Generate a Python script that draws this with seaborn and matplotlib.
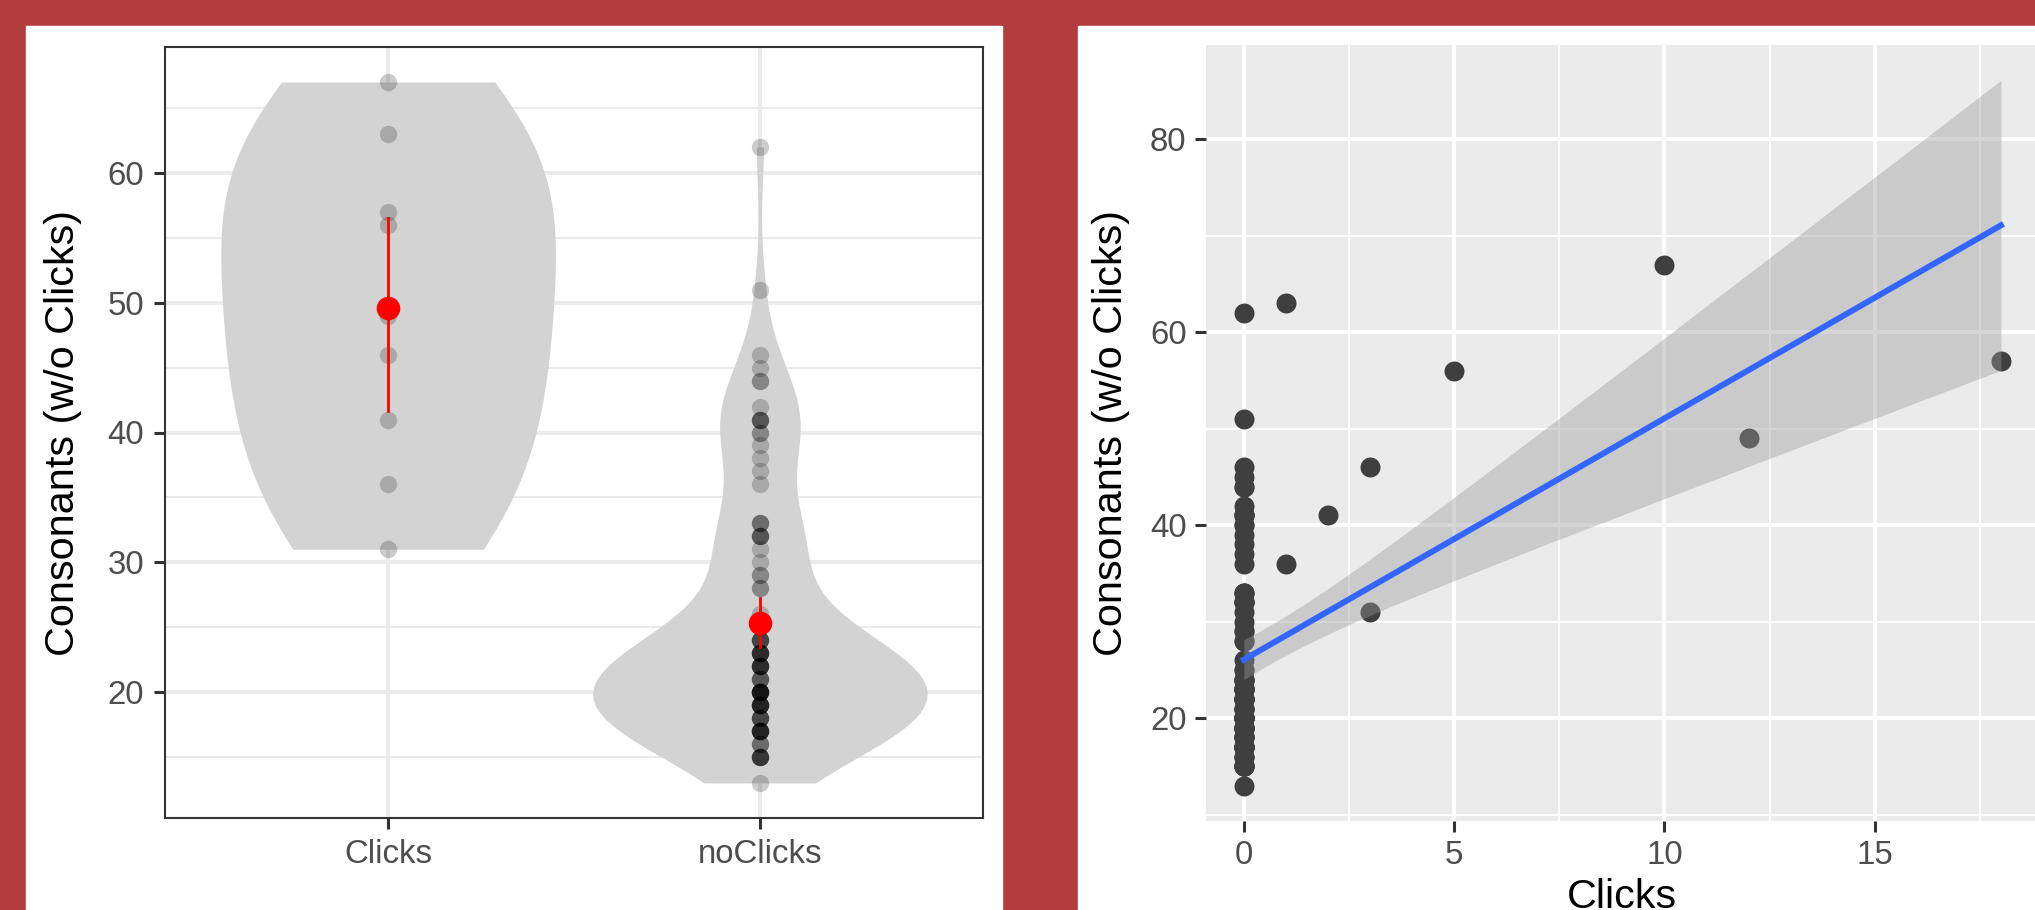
import numpy as np
import pandas as pd
import seaborn as sns
import matplotlib.pyplot as plt

# consonants (w/o clicks) of the speakers that used clicks, and their click counts
clicks_cons = [67, 63, 57, 56, 49, 46, 41, 36, 31]
clicks_count = [10, 1, 18, 5, 12, 3, 2, 1, 3]
# speakers without clicks: consonant values and how many speakers share each value
noclick_vals = [62, 51, 46, 45, 44, 42, 41, 40, 39, 38, 37, 36, 33, 32, 31, 30,
                29, 28, 26, 25, 24, 23, 22, 21, 20, 19, 18, 17, 16, 15, 13]
noclick_reps = [1, 1, 1, 1, 2, 1, 4, 2, 1, 1, 1, 1, 3, 4, 1, 1,
                2, 2, 1, 2, 5, 7, 7, 4, 10, 8, 5, 8, 3, 6, 1]
groups = ['Clicks', 'noClicks']
ylab = 'Consonants (w/o Clicks)'

noclick_cons = np.repeat(noclick_vals, noclick_reps)
df = pd.DataFrame({
    'group': ['Clicks'] * len(clicks_cons) + ['noClicks'] * len(noclick_cons),
    'cons': np.concatenate([clicks_cons, noclick_cons]),
    'clicks': np.concatenate([clicks_count, np.zeros(len(noclick_cons))]),
})

plt.rcParams['font.family'] = ['Liberation Sans', 'DejaVu Sans']
TICK_FS = 23.8
TITLE_FS = 29.8
TXT = '#4D4D4D'


def nrd0(kde):
    # R's default bandwidth rule, as a factor of the sd
    d = kde.dataset[0]
    sd = d.std(ddof=1)
    q75, q25 = np.percentile(d, [75, 25])
    return 0.9 * min(sd, (q75 - q25) / 1.34) * len(d) ** -0.2 / sd


def pad_range(lo, hi, f=0.05):
    r = hi - lo
    return lo - f * r, hi + f * r


fig = plt.figure(figsize=(20.35, 9.1), dpi=100)
fig.patch.set_facecolor('#B23E40')
W, H = 2035, 910
fig.add_artist(plt.Rectangle((26 / W, 0), (1002 - 26) / W, (H - 26) / H,
                             transform=fig.transFigure, color='white', zorder=0))
fig.add_artist(plt.Rectangle((1078 / W, 0), (W - 1078) / W, (H - 26) / H,
                             transform=fig.transFigure, color='white', zorder=0))

# ---- left: violins ----
ax1 = fig.add_axes([165 / W, 92 / H, 818 / W, 771 / H])
sns.violinplot(data=df, x='group', y='cons', order=groups, color='#D3D3D3',
               saturation=1, inner=None, cut=0, density_norm='width', width=0.9,
               linewidth=0, bw_method=nrd0, ax=ax1)
sns.stripplot(data=df, x='group', y='cons', order=groups, jitter=False,
              color='black', alpha=0.2, size=12.5, linewidth=0, ax=ax1)
sns.pointplot(data=df, x='group', y='cons', order=groups, color='#FF0000',
              linestyle='none', markersize=17, markeredgewidth=0,
              errorbar=('ci', 95), seed=7, err_kws={'linewidth': 2, 'zorder': 9},
              zorder=10, ax=ax1)

ax1.set_xlim(-0.6, 1.6)
ax1.set_ylim(*pad_range(df['cons'].min(), df['cons'].max()))
ax1.set_yticks([20, 30, 40, 50, 60])
ax1.set_yticks([15, 25, 35, 45, 55, 65], minor=True)
ax1.set_axisbelow(True)
ax1.grid(which='major', color='#EBEBEB', linewidth=2.8)
ax1.grid(which='minor', axis='y', color='#EBEBEB', linewidth=1.4)
ax1.set_xlabel('')
ax1.set_ylabel(ylab, fontsize=TITLE_FS, color='black')
ax1.yaxis.label.set_va('center')
ax1.yaxis.set_label_coords(-0.1247, 0.5)
for s in ax1.spines.values():
    s.set_color('#333333')
    s.set_linewidth(1.5)
ax1.tick_params(which='major', length=8, width=2.2, color='#333333',
                labelsize=TICK_FS, labelcolor=TXT, pad=7)
ax1.tick_params(which='minor', length=0)

# ---- right: regression ----
ax2 = fig.add_axes([1206 / W, 89 / H, 832.8 / W, 776 / H])
ax2.set_facecolor('#EBEBEB')
for s in ax2.spines.values():
    s.set_visible(False)

sns.scatterplot(data=df, x='clicks', y='cons', color='#3F3F3F', s=207,
                linewidth=0, ax=ax2, zorder=3)

x = df['clicks'].to_numpy()
y = df['cons'].to_numpy().astype(float)
n = len(x)
slope, icpt = np.polyfit(x, y, 1)
resid = y - (icpt + slope * x)
s_res = np.sqrt((resid ** 2).sum() / (n - 2))
xs = np.linspace(x.min(), x.max(), 80)
se = s_res * np.sqrt(1 / n + (xs - x.mean()) ** 2 / ((x - x.mean()) ** 2).sum())
t_crit = 1.983  # t(0.975, df=104)
band_lo = icpt + slope * xs - t_crit * se
band_hi = icpt + slope * xs + t_crit * se
ax2.fill_between(xs, band_lo, band_hi, color='#999999', alpha=0.4,
                 linewidth=0, zorder=4)
sns.regplot(data=df, x='clicks', y='cons', scatter=False, ci=None,
            color='#3366FF', line_kws={'linewidth': 4.3, 'zorder': 5}, ax=ax2)

ax2.set_xlim(*pad_range(x.min(), x.max()))
ax2.set_ylim(*pad_range(min(y.min(), band_lo.min()), max(y.max(), band_hi.max())))
ax2.set_xticks([0, 5, 10, 15])
ax2.set_xticks([2.5, 7.5, 12.5, 17.5], minor=True)
ax2.set_yticks([20, 40, 60, 80])
ax2.set_yticks([10, 30, 50, 70], minor=True)
ax2.set_axisbelow(True)
ax2.grid(which='major', color='white', linewidth=2.8)
ax2.grid(which='minor', color='white', linewidth=1.4)
ax2.tick_params(which='major', length=8, width=2.2, color='#333333',
                labelsize=TICK_FS, labelcolor=TXT, pad=6)
ax2.tick_params(which='minor', length=0)
ax2.set_xlabel('Clicks', fontsize=TITLE_FS, color='black', labelpad=5)
ax2.set_ylabel(ylab, fontsize=TITLE_FS, color='black')
ax2.yaxis.label.set_va('center')
ax2.yaxis.set_label_coords(-0.1141, 0.5)

fig.savefig('out.png', dpi=100, facecolor=fig.get_facecolor())
